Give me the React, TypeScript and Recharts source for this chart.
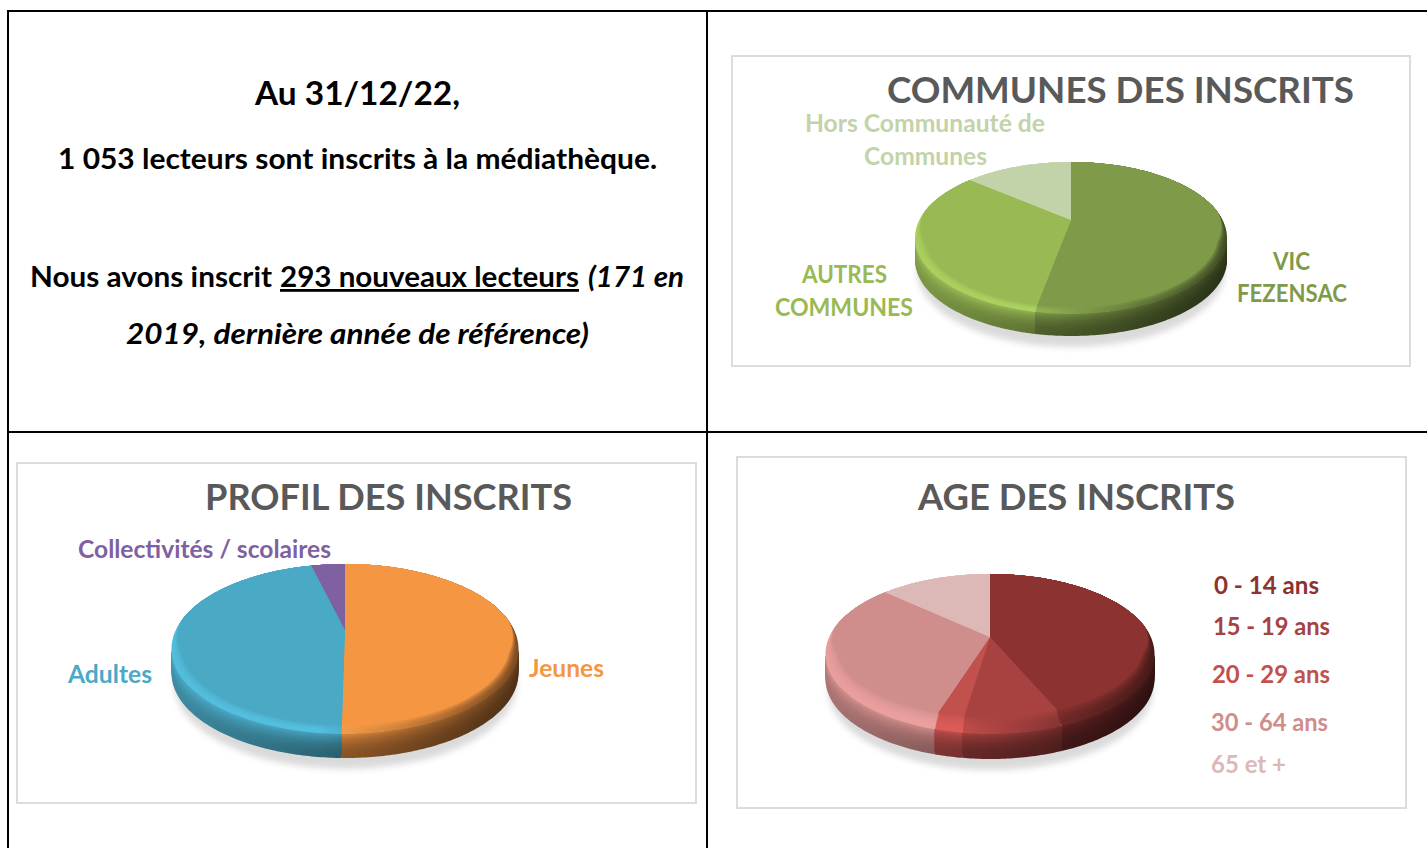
import { PieChart, Pie, Cell } from 'recharts'

const communesLabels = ['VIC FEZENSAC', 'AUTRES COMMUNES', 'Hors Communauté de Communes']
const communesValues = [53.7, 35.1, 11.2]
const communesColors = ['#7f9a48', '#98b954', '#c3d3a9']

const profilLabels = ['Jeunes', 'Adultes', 'Collectivités / scolaires']
const profilValues = [50.3, 46.6, 3.1]
const profilColors = ['#f59643', '#4aa9c5', '#7f60a1']

const ageLabels = ['0 - 14 ans', '15 - 19 ans', '20 - 29 ans', '30 - 64 ans', '65 et +']
const ageValues = [42.8, 9.9, 2.8, 33.5, 11]
const ageColors = ['#8c3331', '#a84240', '#c2504d', '#cf8d8b', '#dcb8b7']

const FONT = 'Lato, Carlito, sans-serif'
const TITLE = '#595959'

const stopOffsets = [0, 0.42, 0.72, 1]
const sideFactors = [0.82, 0.6, 0.45, 0.32]
const bevelFactors = [1.12, 1.14, 0.78, 0.5]
const sideSteps = [1, 0.92, 0.84, 0.76, 0.68, 0.6, 0.52, 0.44, 0.36, 0.28, 0.2, 0.12, 0.06]
const faceSteps = [0, 0.15, 0.3, 0.45, 0.6, 0.75, 0.9, 1]

function shade(hex: string, f: number) {
  const n = parseInt(hex.slice(1), 16)
  const ch = [(n >> 16) & 255, (n >> 8) & 255, n & 255].map(c => Math.min(255, Math.round(c * f)))
  return `rgb(${ch[0]},${ch[1]},${ch[2]})`
}

function mix(a: number, b: number, t: number) {
  return a + (b - a) * t
}

function clamp01(v: number) {
  return Math.max(0, Math.min(1, v))
}

interface Geo {
  id: string
  ry: number
  depth: number
  inset: number
  faceDy: number
  faceRy: number
  apexDy: number
}

function sampleAngles(from: number, to: number) {
  const n = Math.max(2, Math.ceil(Math.abs(from - to)))
  const out: number[] = []
  for (let i = 0; i <= n; i++) out.push(from + ((to - from) * i) / n)
  return out
}

function gradient(id: string, cx: number, r: number, c: string, factors: number[]) {
  return (
    <defs>
      <linearGradient id={id} gradientUnits="userSpaceOnUse" x1={cx - r} x2={cx + r} y1={0} y2={0}>
        {factors.map((f, i) => (
          <stop key={i} offset={stopOffsets[i]} stopColor={shade(c, f)} />
        ))}
      </linearGradient>
    </defs>
  )
}

// recharts gives flat circular sectors, the angles are squashed and extruded here
function sideShape(geo: Geo, colors: string[], u: number) {
  return (p: any) => {
    const hi = Math.min(p.startAngle, 0)
    const lo = Math.max(p.endAngle, -180)
    if (hi <= lo) return <g />
    const pt = (a: number, dy: number) => {
      const r = (a * Math.PI) / 180
      return `${(p.cx + p.outerRadius * Math.cos(r)).toFixed(2)} ${(p.cy + dy - geo.ry * Math.sin(r)).toFixed(2)}`
    }
    const top = sampleAngles(hi, lo).map(a => pt(a, 0))
    const bot = sampleAngles(lo, hi).map(a => pt(a, geo.depth * u))
    const id = `${geo.id}-side-${u}-${p.index}`
    const t = (1 - u) * (1 - u)
    const factors = sideFactors.map((f, i) => mix(f, bevelFactors[i], t * 0.7))
    return (
      <g>
        {gradient(id, p.cx, p.outerRadius, colors[p.index], factors)}
        <path d={`M${top.join('L')}L${bot.join('L')}Z`} fill={`url(#${id})`} />
      </g>
    )
  }
}

function faceShape(geo: Geo, colors: string[], t: number) {
  return (p: any) => {
    const pts = sampleAngles(p.startAngle, p.endAngle).map(a => {
      const r = (a * Math.PI) / 180
      const s = Math.sin(r)
      // only the lower part of the disc has a visible lip
      const w = clamp01((0.35 - s) / 0.45) * t
      const x = p.cx + (p.outerRadius - geo.inset * w) * Math.cos(r)
      const y = p.cy + geo.faceDy * w - mix(geo.ry, geo.faceRy, w) * s
      return `${x.toFixed(2)} ${y.toFixed(2)}`
    })
    const id = `${geo.id}-face-${t}-${p.index}`
    const factors = bevelFactors.map(f => mix(f, 1, t * t))
    return (
      <g>
        {gradient(id, p.cx, p.outerRadius, colors[p.index], factors)}
        <path d={`M${p.cx} ${p.cy + geo.apexDy}L${pts.join('L')}Z`} fill={`url(#${id})`} />
      </g>
    )
  }
}

interface PanelProps {
  box: { x: number; y: number; w: number; h: number }
  cx: number
  cy: number
  rx: number
  geo: Geo
  names: string[]
  values: number[]
  colors: string[]
}

function Panel({ box, cx, cy, rx, geo, names, values, colors }: PanelProps) {
  const data = names.map((name, i) => ({ name, value: values[i] }))
  const layers = [
    ...sideSteps.map(u => sideShape(geo, colors, u)),
    ...faceSteps.map(t => faceShape(geo, colors, t)),
  ]
  const shadowBottom = cy + geo.ry + geo.depth + 11
  return (
    <div style={{ position: 'absolute', left: box.x, top: box.y, width: box.w, height: box.h, boxSizing: 'border-box', border: '2px solid #dcdcdc', background: '#fff' }}>
      <div
        style={{
          position: 'absolute',
          left: cx - rx + 2 - 2,
          top: shadowBottom - geo.ry * 2 - 2,
          width: rx * 2 - 4,
          height: geo.ry * 2,
          borderRadius: '50%',
          background: '#dadada',
          filter: 'blur(3px)',
        }}
      />
      <div style={{ position: 'absolute', left: -2, top: -2 }}>
        <PieChart width={box.w} height={box.h} margin={{ top: 0, right: 0, bottom: 0, left: 0 }}>
          {layers.map((shape, l) => (
            <Pie
              key={l}
              data={data}
              dataKey="value"
              nameKey="name"
              cx={cx}
              cy={cy}
              outerRadius={rx}
              startAngle={90}
              endAngle={-270}
              stroke="none"
              label={false}
              labelLine={false}
              shape={shape}
              isAnimationActive={false}
            >
              {data.map((d, i) => (
                <Cell key={d.name} fill={colors[i]} />
              ))}
            </Pie>
          ))}
        </PieChart>
      </div>
    </div>
  )
}

function T({ x, y, w, size, color = '#000', italic = false, underline = false, children }: any) {
  return (
    <text
      x={x}
      y={y}
      textLength={w}
      lengthAdjust="spacingAndGlyphs"
      fontFamily={FONT}
      fontSize={size}
      fontWeight={700}
      fontStyle={italic ? 'italic' : 'normal'}
      textDecoration={underline ? 'underline' : 'none'}
      fill={color}
    >
      {children}
    </text>
  )
}

export default function App() {
  return (
    <div style={{ position: 'absolute', left: 0, top: 0, width: 1427, height: 848, background: '#fff', overflow: 'hidden' }}>
      <Panel
        box={{ x: 731, y: 55, w: 680, h: 312 }}
        cx={340}
        cy={183}
        rx={156}
        geo={{ id: 'communes', ry: 76, depth: 22, inset: 9, faceDy: -3.5, faceRy: 72.5, apexDy: -18 }}
        names={communesLabels}
        values={communesValues}
        colors={communesColors}
      />
      <Panel
        box={{ x: 16, y: 462, w: 681, h: 342 }}
        cx={329}
        cy={187}
        rx={173.5}
        geo={{ id: 'profil', ry: 85, depth: 24, inset: 9, faceDy: -4.5, faceRy: 80.5, apexDy: -19 }}
        names={profilLabels}
        values={profilValues}
        colors={profilColors}
      />
      <Panel
        box={{ x: 736, y: 456, w: 671, h: 353 }}
        cx={254}
        cy={198}
        rx={164.5}
        geo={{ id: 'age', ry: 80, depth: 25, inset: 11, faceDy: -8.5, faceRy: 71.5, apexDy: -17 }}
        names={ageLabels}
        values={ageValues}
        colors={ageColors}
      />

      <svg width={1427} height={848} style={{ position: 'absolute', left: 0, top: 0, pointerEvents: 'none' }}>
        <line x1={8} y1={11} x2={1427} y2={11} stroke="#000" strokeWidth={2} />
        <line x1={8} y1={432} x2={1427} y2={432} stroke="#000" strokeWidth={2} />
        <line x1={8} y1={10} x2={8} y2={848} stroke="#000" strokeWidth={2} />
        <line x1={707} y1={10} x2={707} y2={848} stroke="#000" strokeWidth={2} />

        <T x={255} y={105} w={205} size={33}>Au 31/12/22,</T>
        <T x={58} y={169} w={599} size={28}>1 053 lecteurs sont inscrits à la médiathèque.</T>
        <T x={30} y={287} w={242} size={28}>Nous avons inscrit</T>
        <T x={280} y={287} w={299} size={28} underline>293 nouveaux lecteurs</T>
        <T x={588} y={287} w={96} size={28} italic>(171 en</T>
        <T x={126} y={344} w={463} size={28} italic>2019, dernière année de référence)</T>

        <T x={887} y={103} w={467} size={36} color={TITLE}>COMMUNES DES INSCRITS</T>
        <T x={205} y={510} w={367} size={37} color={TITLE}>PROFIL DES INSCRITS</T>
        <T x={918} y={510} w={317} size={37} color={TITLE}>AGE DES INSCRITS</T>

        <T x={805} y={132} w={240} size={24} color={communesColors[2]}>Hors Communauté de</T>
        <T x={864} y={165} w={123} size={25} color={communesColors[2]}>Communes</T>
        <T x={802} y={283} w={85} size={25} color={communesColors[1]}>AUTRES</T>
        <T x={775} y={316} w={138} size={25} color={communesColors[1]}>COMMUNES</T>
        <T x={1273} y={270} w={37} size={25} color={communesColors[0]}>VIC</T>
        <T x={1237} y={302} w={110} size={25} color={communesColors[0]}>FEZENSAC</T>

        <T x={78} y={558} w={253} size={25} color={profilColors[2]}>{profilLabels[2]}</T>
        <T x={68} y={683} w={84} size={25} color={profilColors[1]}>{profilLabels[1]}</T>
        <T x={529} y={677} w={75} size={25} color={profilColors[0]}>{profilLabels[0]}</T>

        <T x={1214} y={594} w={105} size={25} color={ageColors[0]}>{ageLabels[0]}</T>
        <T x={1213} y={635} w={117} size={25} color={ageColors[1]}>{ageLabels[1]}</T>
        <T x={1212} y={683} w={118} size={25} color={ageColors[2]}>{ageLabels[2]}</T>
        <T x={1211} y={731} w={117} size={25} color={ageColors[3]}>{ageLabels[3]}</T>
        <T x={1211} y={773} w={75} size={25} color={ageColors[4]}>{ageLabels[4]}</T>
      </svg>
    </div>
  )
}
